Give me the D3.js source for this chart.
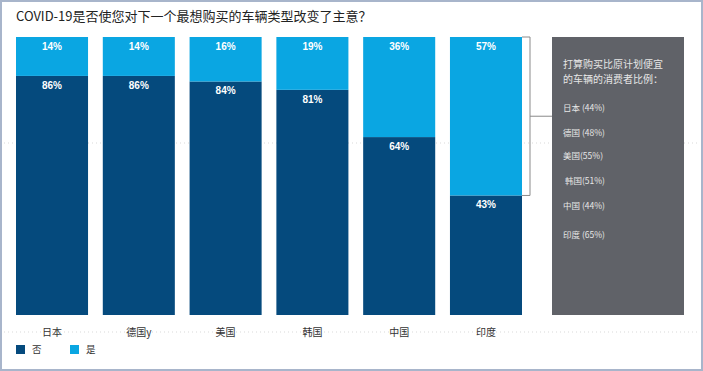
<!DOCTYPE html>
<html lang="zh">
<head>
<meta charset="UTF-8">
<title>COVID-19 车辆类型</title>
<script src="https://d3js.org/d3.v7.min.js"></script>
<style>
  body { margin: 0; background: #fff; }
  text { font-family: "Noto Sans CJK SC", "Noto Sans", sans-serif; white-space: pre; }
  .pct { font-family: Arial, "Liberation Sans", sans-serif; font-weight: bold; fill: #fff; font-size: 10px; }
</style>
</head>
<body>
<svg id="chart" width="703" height="371"></svg>
<script>
// data
const countries = ["日本", "德国y", "美国", "韩国", "中国", "印度"];
const noValues = [86, 86, 84, 81, 64, 43];
const yesValues = [14, 14, 16, 19, 36, 57];
const noteLines = ["打算购买比原计划便宜", "的车辆的消费者比例："];
const noteItems = ["日本 (44%)", "德国 (48%)", "美国(55%)", " 韩国(51%)", "中国 (44%)", "印度 (65%)"];

const darkBlue = "#054a7d";
const lightBlue = "#0aa6e2";

const svg = d3.select("#chart");

// frame
svg.append("rect")
  .attr("x", 1).attr("y", 1).attr("width", 701).attr("height", 369)
  .attr("fill", "#fff").attr("stroke", "#a8b5cb").attr("stroke-width", 2);

// faint dotted guides
const guide = svg.append("g").attr("stroke", "#c9c9c9").attr("stroke-width", 0.7)
  .attr("stroke-dasharray", "1,3");
guide.append("line").attr("x1", 4).attr("x2", 699).attr("y1", 143).attr("y2", 143);
guide.append("line").attr("x1", 4).attr("x2", 699).attr("y1", 332).attr("y2", 332);

// title
svg.append("text")
  .attr("x", 16).attr("y", 21)
  .attr("font-size", 13).attr("fill", "#222")
  .text("COVID-19是否使您对下一个最想购买的车辆类型改变了主意？");

const x = d3.scaleBand().domain(countries).range([16, 522]).paddingInner(0.17).paddingOuter(0);
const y = d3.scaleLinear().domain([0, 100]).range([315, 37]);

const rows = countries.map((c, i) => ({ c, no: noValues[i], yes: yesValues[i] }));
const stacked = d3.stack().keys(["no", "yes"])(rows);
const colors = { no: darkBlue, yes: lightBlue };

stacked.forEach(layer => {
  svg.append("g").selectAll("rect")
    .data(layer)
    .join("rect")
    .attr("x", d => x(d.data.c))
    .attr("y", d => y(d[1]))
    .attr("width", x.bandwidth())
    .attr("height", d => y(d[0]) - y(d[1]))
    .attr("fill", colors[layer.key]);

  svg.append("g").selectAll("text")
    .data(layer)
    .join("text")
    .attr("class", "pct")
    .attr("x", d => x(d.data.c) + x.bandwidth() / 2)
    .attr("y", d => y(d[1]) + 13)
    .attr("text-anchor", "middle")
    .text(d => d.data[layer.key] + "%");
});

// category labels
svg.append("g").selectAll("text")
  .data(countries)
  .join("text")
  .attr("x", d => x(d) + x.bandwidth() / 2)
  .attr("y", 336)
  .attr("text-anchor", "middle")
  .attr("font-size", 10).attr("fill", "#333")
  .text(d => d);

// bracket next to India
const last = rows[rows.length - 1];
const bx0 = x(last.c) + x.bandwidth();
const bTop = y(100), bBot = y(last.no);
svg.append("path")
  .attr("d", `M${bx0},${bTop}H530V${bBot}H${bx0}M530,${(bTop + bBot) / 2}H552`)
  .attr("fill", "none").attr("stroke", "#8a8a8a").attr("stroke-width", 1);

// note panel
svg.append("rect")
  .attr("x", 552).attr("y", 37).attr("width", 132).attr("height", 278)
  .attr("fill", "#606268");

svg.append("g").selectAll("text")
  .data(noteLines)
  .join("text")
  .attr("x", 563).attr("y", (d, i) => 68 + i * 15)
  .attr("font-size", 10).attr("fill", "#e6e6e6")
  .text(d => d);

svg.append("g").selectAll("text")
  .data(noteItems)
  .join("text")
  .attr("x", 563).attr("y", (d, i) => [111, 136, 159, 184, 209, 238][i])
  .attr("font-size", 8.5).attr("fill", "#e6e6e6")
  .text(d => d);

// legend
const legend = [["否", darkBlue, 16], ["是", lightBlue, 70]];
legend.forEach(([label, color, lx]) => {
  svg.append("rect").attr("x", lx).attr("y", 345).attr("width", 9).attr("height", 9).attr("fill", color);
  svg.append("text").attr("x", lx + 16).attr("y", 353).attr("font-size", 9.5).attr("fill", "#333").text(label);
});
</script>
</body>
</html>
